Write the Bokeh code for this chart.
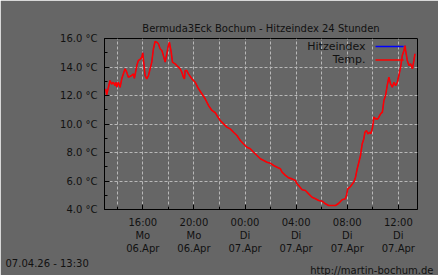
from bokeh.plotting import figure
from bokeh.models import FixedTicker, Label, Range1d, Title
from bokeh.embed import file_html
from bokeh.resources import INLINE

# hours since Monday 06.Apr 00:00
hours = [13.09, 13.17, 13.43, 13.56, 13.69, 13.82, 13.90, 13.96, 14.08, 14.22, 14.35, 14.61, 14.74, 14.87,
         15.13, 15.26, 15.34, 15.53, 15.65, 15.78, 15.92, 16.00, 16.04, 16.18, 16.31, 16.44, 16.57, 16.70,
         16.83, 16.96, 17.09, 17.22, 17.35, 17.49, 17.61, 17.75, 17.88, 18.00, 18.08, 18.22, 18.32, 18.53,
         18.66, 18.79, 18.92, 19.05, 19.18, 19.26, 19.31, 19.44, 19.57, 19.84, 20.10, 20.23, 20.36, 20.62,
         20.88, 21.14, 21.41, 21.67, 21.80, 22.06, 22.32, 22.58, 22.84, 23.10, 23.37, 23.63, 23.89, 24.15,
         24.41, 24.67, 24.94, 25.20, 25.46, 25.72, 25.98, 26.24, 26.51, 26.76, 26.90, 27.16, 27.42, 27.68,
         27.94, 28.07, 28.20, 28.47, 28.73, 28.98, 29.25, 29.51, 29.77, 30.04, 30.29, 30.55, 31.08, 31.34,
         31.60, 31.86, 31.94, 32.04, 32.25, 32.51, 32.65, 32.78, 32.91, 33.04, 33.17, 33.30, 33.38, 33.51,
         33.62, 33.75, 33.84, 33.96, 34.04, 34.08, 34.22, 34.40, 34.61, 34.75, 34.87, 35.00, 35.13, 35.26,
         35.39, 35.53, 35.66, 35.79, 35.92, 36.04, 36.18, 36.31, 36.44, 36.52, 36.57, 36.70, 36.83, 36.96,
         37.10, 37.22, 37.30]
temp = [12.47, 12.05, 13.05, 12.80, 12.93, 12.70, 12.93, 12.58, 12.93, 12.58, 13.17, 13.87, 13.64, 13.28,
        13.40, 13.52, 13.21, 14.10, 14.46, 14.53, 14.69, 15.00, 14.58, 13.40, 13.17, 13.40, 13.87, 14.34,
        15.28, 15.79, 15.74, 15.63, 15.28, 15.16, 14.80, 14.34, 14.93, 15.50, 15.74, 15.04, 14.34, 14.22,
        14.10, 13.99, 13.87, 13.64, 13.28, 13.17, 13.75, 13.75, 13.52, 13.17, 12.93, 12.70, 12.47, 12.12,
        11.77, 11.30, 10.95, 10.79, 10.60, 10.25, 10.01, 9.78, 9.66, 9.42, 9.19, 8.84, 8.60, 8.37,
        8.26, 8.02, 7.79, 7.56, 7.44, 7.32, 7.25, 7.09, 6.97, 6.86, 6.62, 6.39, 6.22, 6.15,
        6.04, 5.80, 5.68, 5.38, 5.33, 5.10, 4.86, 4.75, 4.63, 4.58, 4.40, 4.28, 4.28, 4.44,
        4.68, 4.75, 4.98, 5.45, 5.61, 5.92, 6.27, 6.86, 7.32, 7.79, 8.60, 8.96, 9.42, 9.54,
        9.31, 9.42, 9.31, 9.66, 10.13, 10.48, 10.36, 10.36, 10.71, 10.83, 11.65, 12.00, 12.70, 13.28,
        12.82, 12.58, 12.93, 12.70, 12.93, 13.40, 13.99, 14.81, 15.16, 15.50, 15.16, 14.46, 14.10, 14.22,
        13.87, 14.46, 14.93]
heat_index = list(temp)

x_ticks = [16, 20, 24, 28, 32, 36]
x_tick_labels = ["16:00\nMo\n06.Apr", "20:00\nMo\n06.Apr", "00:00\nDi\n07.Apr",
                 "04:00\nDi\n07.Apr", "08:00\nDi\n07.Apr", "12:00\nDi\n07.Apr"]
x_minor = [14, 18, 22, 26, 30, 34]
y_ticks = [4, 6, 8, 10, 12, 14, 16]
y_minor = [5, 7, 9, 11, 13, 15]

title_text = "Bermuda3Eck Bochum - Hitzeindex 24 Stunden"
footer_left = "07.04.26 - 13:30"
footer_right = "http://martin-bochum.de"
series_names = ["Hitzeindex", "Temp."]

BG = "#666666"
TXT = "#111111"
FONT = "DejaVu Sans"
FS = "10px"

x0, x1 = 13.0, 37.5
y0, y1 = 4.0, 16.0

p = figure(width=438, height=275, output_backend="svg", toolbar_location=None,
           x_range=Range1d(x0, x1), y_range=Range1d(y0, y1),
           min_border_left=104, min_border_right=21, min_border_top=38, min_border_bottom=66,
           background_fill_color=BG, border_fill_color=BG,
           outline_line_color="black", outline_line_width=1)

p.title.text = title_text
p.title.align = "center"
p.title.offset = -3
p.title.text_font = FONT
p.title.text_font_size = FS
p.title.text_font_style = "normal"
p.title.text_color = TXT

for ax in (p.xaxis[0], p.yaxis[0]):
    ax.axis_line_color = "black"
    ax.major_tick_line_color = "black"
    ax.minor_tick_line_color = "black"
    ax.major_tick_in = 5
    ax.major_tick_out = 0
    ax.minor_tick_in = 3
    ax.minor_tick_out = 0
    ax.major_label_text_color = TXT
    ax.major_label_text_font = FONT
    ax.major_label_text_font_size = FS
    ax.major_label_standoff = 7

p.xaxis[0].ticker = FixedTicker(ticks=x_ticks, minor_ticks=x_minor)
p.xaxis[0].major_label_overrides = {t: l for t, l in zip(x_ticks, x_tick_labels)}
p.yaxis[0].ticker = FixedTicker(ticks=y_ticks, minor_ticks=y_minor)
p.yaxis[0].major_label_overrides = {t: "%.1f °C" % t for t in y_ticks}

p.xgrid.ticker = FixedTicker(ticks=sorted(x_ticks + x_minor))
p.ygrid.ticker = FixedTicker(ticks=y_ticks)
for g in (p.xgrid[0], p.ygrid[0]):
    g.grid_line_color = "#b8b8b8"
    g.grid_line_dash = "3 2"
    g.grid_line_width = 1

p.line(hours, heat_index, line_color="#0000ff", line_width=0.6)
p.line(hours, temp, line_color="#ff0000", line_width=1.6)

# helpers to place legend decorations relative to pixels
def hx(px):
    return x0 + (px - 104.5) / 12.75

def ty(py):
    return y1 - (py - 38.0) / 14.25

# legend
p.add_layout(Label(x=hx(365), y=ty(45.7), text=series_names[0], text_align="right", text_baseline="middle",
                   text_font=FONT, text_font_size="11px", text_color=TXT))
p.add_layout(Label(x=hx(365), y=ty(59.3), text=series_names[1], text_align="right", text_baseline="middle",
                   text_font=FONT, text_font_size="11px", text_color=TXT))
p.segment(x0=[hx(375), hx(375)], y0=[ty(46), ty(59.5)], x1=[hx(403), hx(403)], y1=[ty(46), ty(59.5)],
          line_color=["#0000ff", "#ff0000"], line_width=1.5)

# footer as titles below the plot
fl = Title(text=footer_left, align="left", offset=-99, standoff=-2,
           text_font=FONT, text_font_size=FS, text_font_style="normal", text_color=TXT)
fr = Title(text=footer_right, align="right", offset=-16, standoff=-10,
           text_font=FONT, text_font_size=FS, text_font_style="normal", text_color=TXT)
p.add_layout(fl, "below")
p.add_layout(fr, "below")

open("out.html", "w").write(file_html(p, INLINE))
